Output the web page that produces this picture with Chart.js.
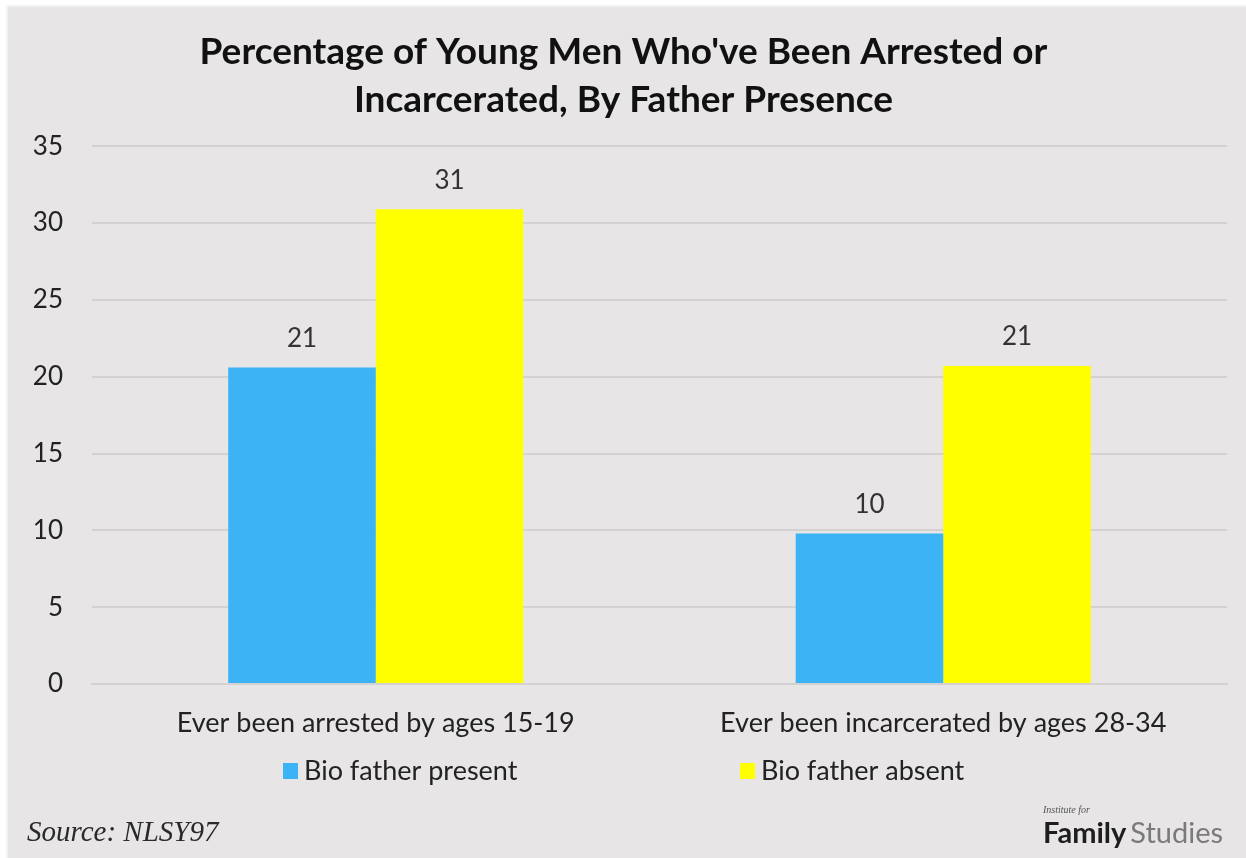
<!DOCTYPE html>
<html>
<head>
<meta charset="utf-8">
<script src="https://cdn.jsdelivr.net/npm/chart.js@4.4.1/dist/chart.umd.min.js"></script>
<style>
  html, body { margin: 0; padding: 0; background: #ffffff; }
  #chart { display: block; }
</style>
</head>
<body>
<canvas id="chart" width="1246" height="858"></canvas>
<script>
// Chart data
const categories = ['Ever been arrested by ages 15-19', 'Ever been incarcerated by ages 28-34'];
const seriesNames = ['Bio father present', 'Bio father absent'];
const fatherPresent = [20.6, 9.8];
const fatherAbsent = [30.9, 20.7];
const valueLabelsPresent = ['21', '10'];
const valueLabelsAbsent = ['31', '21'];
const yTicks = [0, 5, 10, 15, 20, 25, 30, 35];

const titleLines = ["Percentage of Young Men Who've Been Arrested or", 'Incarcerated, By Father Presence'];
const sourceText = 'Source: NLSY97';

const BLUE = '#3cb3f5';
const YELLOW = '#ffff00';
const TEXT = '#222222';
const SANS = 'Lato, "Open Sans", sans-serif';

/**
 * Paints the grey panel behind everything.
 */
const backgroundPlugin = {
  id: 'panel',
  beforeDraw(chart) {
    const ctx = chart.ctx;
    ctx.save();
    ctx.fillStyle = '#f4f3f3';
    ctx.fillRect(6, 5, chart.width - 6, chart.height - 5);
    ctx.fillStyle = '#e7e5e6';
    ctx.fillRect(8, 7, chart.width - 8, chart.height - 7);
    ctx.restore();
  }
};

/**
 * Writes the value labels above each bar.
 */
const valueLabelPlugin = {
  id: 'valueLabels',
  afterDatasetsDraw(chart) {
    const ctx = chart.ctx;
    const labelSets = [valueLabelsPresent, valueLabelsAbsent];
    ctx.save();
    ctx.font = '26px ' + SANS;
    ctx.fillStyle = '#333333';
    ctx.textAlign = 'center';
    ctx.textBaseline = 'middle';
    chart.data.datasets.forEach((ds, i) => {
      chart.getDatasetMeta(i).data.forEach((bar, j) => {
        ctx.fillText(labelSets[i][j], bar.x, bar.y - 29);
      });
    });
    ctx.restore();
  }
};

/**
 * Draws the legend, the source note and the logo under the chart.
 */
const footerPlugin = {
  id: 'footer',
  afterDraw(chart) {
    const ctx = chart.ctx;
    const area = chart.chartArea;
    const colors = [BLUE, YELLOW];
    const legendX = [area.left + 191, area.left + 648];
    const legendY = 771;
    ctx.save();
    ctx.textBaseline = 'middle';
    ctx.textAlign = 'left';
    ctx.font = '27px ' + SANS;
    seriesNames.forEach((name, i) => {
      ctx.fillStyle = colors[i];
      ctx.fillRect(legendX[i], legendY - 8, 15, 16);
      ctx.fillStyle = TEXT;
      ctx.fillText(name, legendX[i] + 21, legendY);
    });

    // source note
    ctx.textBaseline = 'alphabetic';
    ctx.font = 'italic 29px "Liberation Serif", "DejaVu Serif", serif';
    ctx.fillStyle = '#2a2a2a';
    ctx.fillText(sourceText, 27, 841);

    // logo
    ctx.font = 'italic 10px "Liberation Serif", serif';
    ctx.fillStyle = '#555555';
    ctx.fillText('Institute for', 1043, 813);
    ctx.font = 'bold 29px ' + SANS;
    ctx.fillStyle = '#1e1e1e';
    ctx.fillText('Family', 1043, 843);
    const w = ctx.measureText('Family').width;
    ctx.font = '29px ' + SANS;
    ctx.fillStyle = '#7a7a7a';
    ctx.fillText('Studies', 1043 + w + 4, 843);
    ctx.restore();
  }
};

new Chart(document.getElementById('chart'), {
  type: 'bar',
  data: {
    labels: categories,
    datasets: [
      { label: seriesNames[0], data: fatherPresent, backgroundColor: BLUE },
      { label: seriesNames[1], data: fatherAbsent, backgroundColor: YELLOW }
    ]
  },
  options: {
    responsive: false,
    animation: false,
    layout: { padding: { left: 20, right: 19, top: 0, bottom: 0 } },
    datasets: {
      bar: { barPercentage: 1, categoryPercentage: 0.52 }
    },
    plugins: {
      legend: { display: false },
      tooltip: { enabled: false },
      title: {
        display: true,
        text: titleLines,
        color: '#111111',
        font: { family: SANS, size: 37, weight: 'bold', lineHeight: 1.3 },
        padding: { top: 28, bottom: 22 }
      }
    },
    scales: {
      x: {
        grid: { display: false, drawTicks: false },
        border: { display: true, color: '#d3d1d2', width: 2 },
        ticks: { color: TEXT, font: { family: SANS, size: 27 }, padding: 23 },
        afterFit: scale => { scale.height = 174; }
      },
      y: {
        min: 0,
        max: 35,
        afterBuildTicks: scale => { scale.ticks = yTicks.map(v => ({ value: v })); },
        grid: { color: '#d3d1d2', lineWidth: 2, drawTicks: false },
        border: { display: false },
        ticks: { color: TEXT, font: { family: SANS, size: 26 }, padding: 29 },
        afterFit: scale => { scale.width = 72; }
      }
    }
  },
  plugins: [backgroundPlugin, valueLabelPlugin, footerPlugin]
});
</script>
</body>
</html>
